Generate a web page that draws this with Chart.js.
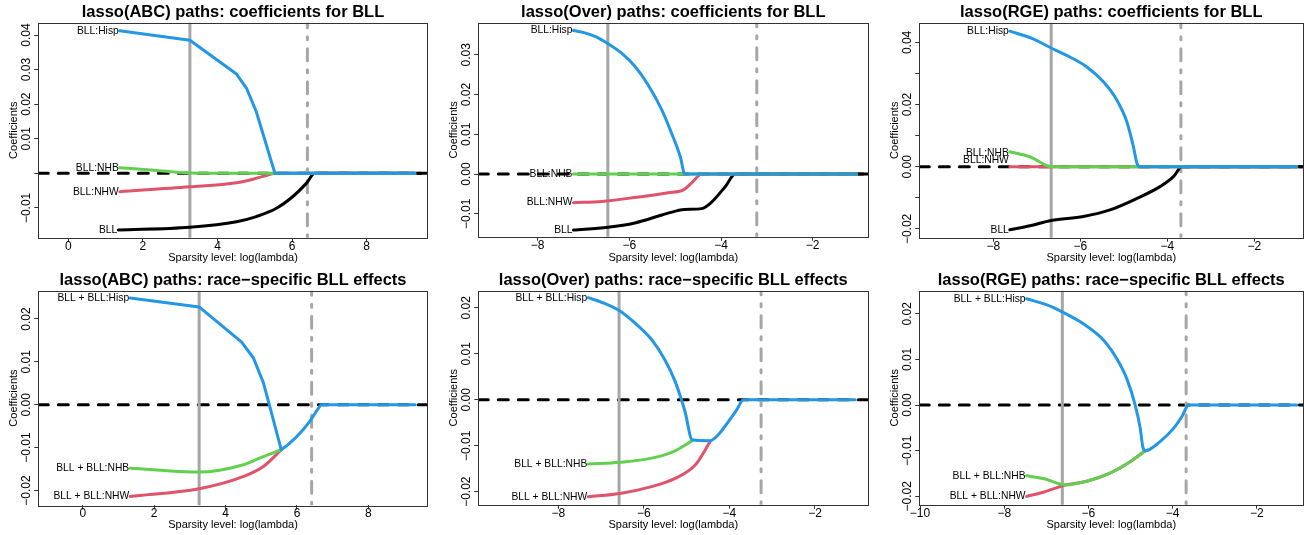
<!DOCTYPE html>
<html lang="en">
<head>
  <meta charset="UTF-8">
  <title>lasso paths</title>
  <script src="https://cdn.jsdelivr.net/npm/chart.js"></script>
  <style>
    body { margin: 0; background: #fff; }
    #page { position: relative; width: 1304px; height: 535px; overflow: hidden; }
    canvas { position: absolute; }
  </style>
</head>
<body>
  <div id="page">
    <canvas id="c1" width="435" height="268" style="left:0px;top:0px"></canvas>
    <canvas id="c2" width="435" height="268" style="left:435px;top:0px"></canvas>
    <canvas id="c3" width="434" height="268" style="left:870px;top:0px"></canvas>
    <canvas id="c4" width="435" height="267" style="left:0px;top:268px"></canvas>
    <canvas id="c5" width="435" height="267" style="left:435px;top:268px"></canvas>
    <canvas id="c6" width="434" height="267" style="left:870px;top:268px"></canvas>
  </div>

  <script>
    // ---- data ----
    const xTicksAbc = [0, 2, 4, 6, 8];
    const xTicksNeg = [-8, -6, -4, -2];
    const xTicksNeg10 = [-10, -8, -6, -4, -2];

    const topNames = ['BLL:Hisp', 'BLL:NHB', 'BLL:NHW', 'BLL'];
    const bottomNames = ['BLL + BLL:Hisp', 'BLL + BLL:NHB', 'BLL + BLL:NHW'];

    // lambda lines: [min, 1se]
    const lambdaAbc = [3.26, 6.41];
    const lambdaOver = [-6.47, -3.22];
    const lambdaOverRace = [-6.58, -3.26];
    const lambdaRge = [-6.67, -3.69];
    const lambdaRgeRace = [-6.62, -3.68];

    // lasso(ABC): coefficients for BLL
    const abcHisp = [[1.38, 0.0412], [3.26, 0.0385], [4.51, 0.0287], [4.78, 0.0246], [5.04, 0.0178], [5.54, 0], [9.29, 0]];
    const abcNhb = [[1.38, 0.0016], [2.3, 0.0009], [3.26, 0.0001], [4.5, 0], [5.54, 0], [9.29, 0]];
    const abcNhw = [[1.38, -0.0053], [3.26, -0.0039], [4.51, -0.0027], [4.95, -0.0017], [5.25, -0.0008], [5.54, 0], [9.29, 0]];
    const abcBll = [[1.34, -0.0164], [3.26, -0.0156], [4.51, -0.0140], [5.04, -0.0125], [5.58, -0.0101], [6.02, -0.0067], [6.38, -0.0029], [6.61, 0], [9.45, 0]];

    // lasso(Over): coefficients for BLL
    const overHisp = [[-7.22, 0.0361], [-6.97, 0.0355], [-6.75, 0.0346], [-6.47, 0.0328], [-6.17, 0.0304], [-5.88, 0.0271], [-5.59, 0.0224], [-5.29, 0.0161], [-5.08, 0.0103], [-4.89, 0.0044], [-4.79, 0], [-1.04, 0]];
    const overNhb = [[-7.22, 0], [-4.79, 0], [-1.04, 0]];
    const overNhw = [[-7.22, -0.0072], [-6.6, -0.0069], [-5.88, -0.0059], [-5.15, -0.0047], [-4.82, -0.0040], [-4.64, -0.0022], [-4.42, 0], [-1.04, 0]];
    const overBll = [[-7.22, -0.0141], [-6.47, -0.0134], [-5.88, -0.0123], [-5.29, -0.0103], [-4.95, -0.0092], [-4.79, -0.0089], [-4.42, -0.0087], [-4.20, -0.0070], [-3.91, -0.0032], [-3.69, 0], [-0.9, 0]];

    // lasso(RGE): coefficients for BLL
    const rgeHisp = [[-7.62, 0.0436], [-7.1, 0.0412], [-6.67, 0.0382], [-6.24, 0.0353], [-5.85, 0.0321], [-5.47, 0.0273], [-5.16, 0.0214], [-4.93, 0.0144], [-4.78, 0.0064], [-4.70, 0.0011], [-4.63, 0], [-1.03, 0]];
    const rgeNhb = [[-7.62, 0.0048], [-7.16, 0.0032], [-6.66, 0], [-1.03, 0]];
    const rgeNhw = [[-7.62, 0], [-6.66, 0], [-1.03, 0]];
    const rgeBll = [[-7.62, -0.0203], [-7.16, -0.0190], [-6.67, -0.0173], [-5.93, -0.0160], [-5.32, -0.0139], [-4.70, -0.0102], [-4.17, -0.0064], [-3.86, -0.0032], [-3.67, 0], [-0.9, 0]];

    // lasso(ABC): race-specific BLL effects
    const abcRaceHisp = [[1.33, 0.0249], [3.26, 0.0228], [4.45, 0.0146], [4.78, 0.0109], [5.06, 0.0051], [5.25, -0.0008], [5.56, -0.0105], [5.75, -0.0093], [5.95, -0.0078], [6.15, -0.0060], [6.35, -0.0040], [6.52, -0.0018], [6.67, 0], [9.31, 0]];
    const abcRaceNhb = [[1.33, -0.0148], [3.26, -0.0157], [4.45, -0.0141], [4.97, -0.0124], [5.56, -0.0105]];
    const abcRaceNhw = [[1.33, -0.0214], [3.26, -0.0196], [4.45, -0.0169], [5.06, -0.0144], [5.56, -0.0105]];

    // lasso(Over): race-specific BLL effects
    const overRaceHisp = [[-7.30, 0.0222], [-6.93, 0.0210], [-6.56, 0.0193], [-6.21, 0.0167], [-5.82, 0.0131], [-5.51, 0.0087], [-5.27, 0.0040], [-5.04, -0.0025], [-4.87, -0.0087], [-4.45, -0.0089], [-4.26, -0.0076], [-4.02, -0.0047], [-3.83, -0.0022], [-3.67, 0], [-1.06, 0]];
    const overRaceNhb = [[-7.30, -0.0140], [-6.56, -0.0136], [-5.82, -0.0127], [-5.27, -0.0111], [-4.87, -0.0089]];
    const overRaceNhw = [[-7.30, -0.0211], [-6.56, -0.0204], [-5.82, -0.0189], [-5.27, -0.0171], [-4.80, -0.0142], [-4.45, -0.0091]];

    // lasso(RGE): race-specific BLL effects
    const rgeRaceHisp = [[-7.47, 0.0233], [-7.0, 0.0220], [-6.62, 0.0204], [-6.12, 0.0178], [-5.64, 0.0142], [-5.33, 0.0102], [-5.09, 0.0058], [-4.89, 0], [-4.77, -0.0051], [-4.71, -0.0091], [-4.65, -0.0100], [-4.30, -0.0080], [-3.98, -0.0051], [-3.78, -0.0025], [-3.62, 0], [-1.05, 0]];
    const rgeRaceNhb = [[-7.47, -0.0155], [-7.07, -0.0161], [-6.55, -0.0175], [-6.04, -0.0167], [-5.49, -0.0149], [-5.01, -0.0124], [-4.65, -0.0100]];
    const rgeRaceNhw = [[-7.47, -0.0200], [-7.07, -0.0191], [-6.55, -0.0175], [-6.04, -0.0167], [-5.49, -0.0149], [-5.01, -0.0124], [-4.65, -0.0100]];

    // ---- styling ----
    const FONT = '"Liberation Sans", Arial, Helvetica, sans-serif';
    const COLORS = ['#2297E6', '#61D04F', '#DF536B', '#000000'];
    const GRAY = '#A6A6A6';
    const AXIS = '#333333';

    function fmtNum(v, dec) {
      return v.toFixed(dec).replace('-', '\u2212');
    }

    const decor = {
      id: 'decor',
      beforeDatasetsDraw(chart, args, o) {
        const { ctx, chartArea: a, scales: { x, y } } = chart;
        ctx.save();
        ctx.beginPath();
        ctx.rect(a.left, a.top, a.right - a.left, a.bottom - a.top);
        ctx.clip();
        ctx.lineCap = 'round';
        ctx.lineWidth = 3;
        // zero line
        const y0 = y.getPixelForValue(0);
        ctx.strokeStyle = '#000';
        ctx.setLineDash([10, 10]);
        ctx.beginPath();
        ctx.moveTo(a.left, y0);
        ctx.lineTo(a.right, y0);
        ctx.stroke();
        // lambda lines
        ctx.strokeStyle = GRAY;
        o.lambda.forEach((v, i) => {
          const px = x.getPixelForValue(v);
          ctx.setLineDash(i === 0 ? [] : [3, 9, 12, 9]);
          ctx.beginPath();
          ctx.moveTo(px, a.bottom);
          ctx.lineTo(px, a.top);
          ctx.stroke();
        });
        ctx.restore();
      },
      afterDatasetsDraw(chart, args, o) {
        const { ctx, chartArea: a, scales: { x, y } } = chart;
        ctx.save();
        // path labels
        ctx.font = '10.3px ' + FONT;
        ctx.fillStyle = '#000';
        ctx.textAlign = 'right';
        ctx.textBaseline = 'middle';
        chart.data.datasets.forEach((ds, i) => {
          const p = ds.data[0];
          ctx.fillText(o.names[i], x.getPixelForValue(p.x) - 1, y.getPixelForValue(p.y) + (o.labelShift[i] || 0));
        });
        // box
        ctx.strokeStyle = AXIS;
        ctx.lineWidth = 1;
        ctx.strokeRect(Math.round(a.left) + 0.5, Math.round(a.top) + 0.5, Math.round(a.right - a.left), Math.round(a.bottom - a.top));
        // rotated y tick labels
        ctx.font = '12px ' + FONT;
        ctx.textAlign = 'center';
        ctx.textBaseline = 'middle';
        o.yTicks.forEach((v, i) => {
          const lab = o.yLabels[i];
          if (!lab) return;
          ctx.save();
          ctx.translate(a.left - 11.5, y.getPixelForValue(v));
          ctx.rotate(-Math.PI / 2);
          ctx.fillText(lab, 0, 0);
          ctx.restore();
        });
        ctx.restore();
      }
    };

    function makePanel(id, p) {
      const canvas = document.getElementById(id);
      const W = canvas.width, H = canvas.height;
      const [L, R, B] = p.area;
      const datasets = p.series.map((s, i) => ({
        data: s.map(([x, y]) => ({ x, y })),
        borderColor: COLORS[i],
        borderWidth: 3,
        pointRadius: 0,
        fill: false,
        tension: 0,
        cubicInterpolationMode: p.straight && i === 0 ? 'default' : 'monotone',
        borderCapStyle: 'round',
        borderJoinStyle: 'round'
      }));
      return new Chart(canvas, {
        type: 'line',
        data: { datasets },
        options: {
          responsive: false,
          animation: false,
          events: [],
          layout: { padding: { left: 0, right: W - R, top: 0, bottom: 0 } },
          plugins: {
            legend: { display: false },
            tooltip: { enabled: false },
            title: {
              display: true,
              text: p.title,
              fullSize: false,
              color: '#000',
              font: { family: FONT, size: 16.5, weight: 'bold' },
              padding: { top: 3, bottom: 0 }
            },
            decor: { lambda: p.lambda, names: p.names, labelShift: p.labelShift || [], yTicks: p.yTicks, yLabels: p.yLabels }
          },
          scales: {
            x: {
              type: 'linear',
              min: p.xRange[0],
              max: p.xRange[1],
              afterBuildTicks: s => { s.ticks = p.xTicks.map(v => ({ value: v })); },
              afterFit: s => { s.height = H - B; },
              ticks: {
                color: '#000',
                font: { family: FONT, size: 12 },
                padding: -2.5,
                maxRotation: 0,
                autoSkip: false,
                callback: v => fmtNum(v, 0)
              },
              grid: { drawOnChartArea: false, drawTicks: true, tickLength: 4, color: AXIS },
              border: { display: false },
              title: {
                display: true,
                text: 'Sparsity level: log(lambda)',
                color: '#000',
                font: { family: FONT, size: 11 },
                padding: { top: 0, bottom: 3.5 }
              }
            },
            y: {
              type: 'linear',
              min: p.yRange[0],
              max: p.yRange[1],
              afterBuildTicks: s => { s.ticks = p.yTicks.map(v => ({ value: v })); },
              afterFit: s => { s.width = L; },
              ticks: { color: 'rgba(0,0,0,0)', font: { family: FONT, size: 12 }, autoSkip: false },
              grid: { drawOnChartArea: false, drawTicks: true, tickLength: 4, color: AXIS },
              border: { display: false },
              title: {
                display: true,
                text: 'Coefficients',
                color: '#000',
                font: { family: FONT, size: 11 },
                padding: { top: L - 31.1, bottom: 0 }
              }
            }
          }
        },
        plugins: [decor]
      });
    }

    const yTop3 = [-0.01, 0, 0.01, 0.02, 0.03, 0.04];
    const yTicksRge = [-0.02, -0.01, 0, 0.01, 0.02, 0.03, 0.04];
    const yTicksRace = [-0.02, -0.01, 0, 0.01, 0.02];
    const yTicksOver = [-0.01, 0, 0.01, 0.02, 0.03];

    makePanel('c1', {
      title: 'lasso(ABC) paths: coefficients for BLL',
      area: [38.3, 427.7, 237.7],
      xRange: [-0.804, 9.635], xTicks: xTicksAbc,
      yRange: [-0.01861, 0.04353], yTicks: yTop3,
      yLabels: ['\u22120.01', '', '0.01', '0.02', '0.03', '0.04'],
      lambda: lambdaAbc, names: topNames, straight: true,
      series: [abcHisp, abcNhb, abcNhw, abcBll]
    });
    makePanel('c2', {
      title: 'lasso(Over) paths: coefficients for BLL',
      area: [43.3, 433.3, 236.8],
      xRange: [-9.296, -0.787], xTicks: xTicksNeg,
      yRange: [-0.01579, 0.03804], yTicks: yTicksOver,
      yLabels: ['\u22120.01', '0.00', '0.01', '0.02', '0.03'],
      lambda: lambdaOver, names: topNames,
      series: [overHisp, overNhb, overNhw, overBll]
    });
    makePanel('c3', {
      title: 'lasso(RGE) paths: coefficients for BLL',
      area: [49.3, 433.2, 237.7],
      xRange: [-9.70, -0.88], xTicks: xTicksNeg,
      yRange: [-0.02283, 0.0463], yTicks: yTicksRge,
      yLabels: ['\u22120.02', '', '0.00', '', '0.02', '', '0.04'],
      lambda: lambdaRge, names: topNames, labelShift: [0, 1, -7, 0],
      series: [rgeHisp, rgeNhb, rgeNhw, rgeBll]
    });
    makePanel('c4', {
      title: 'lasso(ABC) paths: race\u2212specific BLL effects',
      area: [38.3, 427.7, 237.3],
      xRange: [-1.244, 9.66], xTicks: xTicksAbc,
      yRange: [-0.02345, 0.02657], yTicks: yTicksRace,
      yLabels: ['\u22120.02', '\u22120.01', '0.00', '0.01', '0.02'],
      lambda: lambdaAbc, names: bottomNames, straight: true,
      series: [abcRaceHisp, abcRaceNhb, abcRaceNhw]
    });
    makePanel('c5', {
      title: 'lasso(Over) paths: race\u2212specific BLL effects',
      area: [43.3, 433.3, 236.7],
      xRange: [-9.87, -0.754], xTicks: xTicksNeg,
      yRange: [-0.02283, 0.0237], yTicks: yTicksRace,
      yLabels: ['\u22120.02', '\u22120.01', '0.00', '0.01', '0.02'],
      lambda: lambdaOverRace, names: bottomNames,
      series: [overRaceHisp, overRaceNhb, overRaceNhw]
    });
    makePanel('c6', {
      title: 'lasso(RGE) paths: race\u2212specific BLL effects',
      area: [49.3, 433.2, 236.7],
      xRange: [-10.017, -0.90], xTicks: xTicksNeg10,
      yRange: [-0.02183, 0.02504], yTicks: yTicksRace,
      yLabels: ['\u22120.02', '\u22120.01', '0.00', '0.01', '0.02'],
      lambda: lambdaRgeRace, names: bottomNames,
      series: [rgeRaceHisp, rgeRaceNhb, rgeRaceNhw]
    });
  </script>
</body>
</html>
